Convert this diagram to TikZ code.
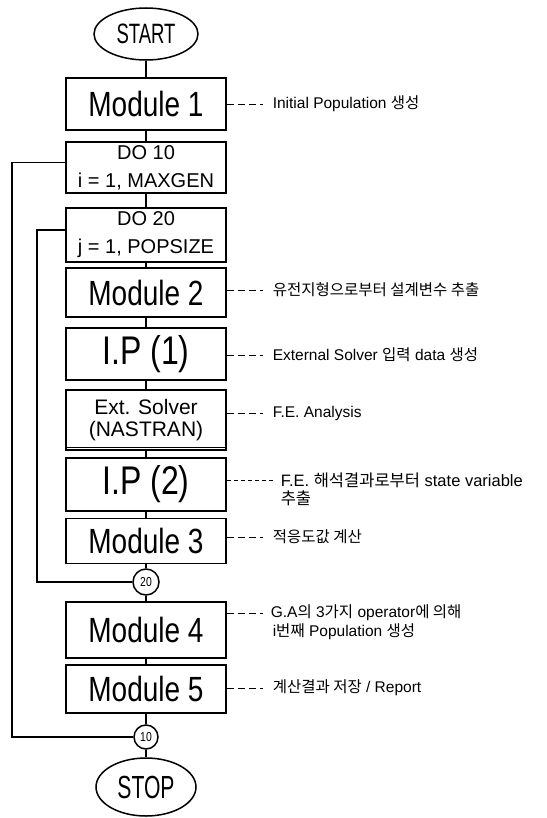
\documentclass[tikz,border=0pt]{standalone}
\usepackage{fontspec}
\usetikzlibrary{shapes.geometric}
\setmainfont{Liberation Sans}
\newfontfamily\bigf[FakeStretch=0.8]{Liberation Sans}
\newfontfamily\termf[FakeStretch=0.66]{Liberation Sans}
\newfontfamily\krf{Noto Sans CJK KR}
\newcommand{\kor}[1]{{\krf #1}}
\begin{document}
\begin{tikzpicture}[x=1bp,y=-1bp,line width=1.6bp,
  box/.style={draw,line width=1.7bp,minimum width=160bp,inner sep=0pt,align=center},
  term/.style={draw,ellipse,line width=1.5bp,inner sep=0pt},
  conn/.style={draw,circle,line width=1.5bp,inner sep=0pt,font=\bigf\fontsize{13bp}{13bp}\selectfont},
  note/.style={anchor=west,inner sep=0pt,align=left,font=\fontsize{15.5bp}{18bp}\selectfont},
  lead/.style={line width=1bp,dash pattern=on 7bp off 4bp},
  leadb/.style={line width=1bp,dash pattern=on 4bp off 3bp},
  modf/.style={font=\bigf\fontsize{35bp}{35bp}\selectfont},
  ipf/.style={font=\bigf\fontsize{40bp}{40bp}\selectfont},
  dof/.style={font=\fontsize{20bp}{28bp}\selectfont}]
\useasboundingbox (0,0) rectangle (547,818);
% main column
\node[term,minimum width=104bp,minimum height=52bp,font=\termf\fontsize{28bp}{28bp}\selectfont] (start) at (146,34) {START};
\node[box,minimum height=52bp,modf] (m1) at (146,104) {Module 1};
\node[box,minimum height=51bp,dof] (do10) at (146,167.5) {DO 10\\i = 1, MAXGEN};
\node[box,minimum height=54bp,dof] (do20) at (146,235) {DO 20\\j = 1, POPSIZE};
\node[box,minimum height=49bp,modf] (m2) at (146,292.5) {Module 2};
\node[box,minimum height=52bp,ipf] (ip1) at (146,354) {I.P (1)};
\node[box,minimum height=60bp,font=\fontsize{21bp}{22bp}\selectfont] (ext) at (146,420) {Ext. Solver\\(NASTRAN)};
\node[box,minimum height=53bp,ipf] (ip2) at (146,484.5) {I.P (2)};
\node[box,minimum height=45bp,modf] (m3) at (146,541) {Module 3};
\node[conn,minimum size=26bp] (c20) at (146,582) {20};
\node[box,minimum height=56bp,modf] (m4) at (146,630) {Module 4};
\node[box,minimum height=48bp,modf] (m5) at (146,689) {Module 5};
\node[conn,minimum size=24bp] (c10) at (146,737) {10};
\node[term,minimum width=100bp,minimum height=58bp,font=\termf\fontsize{32bp}{32bp}\selectfont] (stop) at (146,787) {STOP};
% double bottom edge of the solver box
\draw[line width=0.8bp] ([yshift=3.5bp]ext.south west) -- ([yshift=3.5bp]ext.south east);
% vertical flow
\draw (start) -- (m1);
\draw (m1) -- (do10);
\draw (do10) -- (do20);
\draw (do20) -- (m2);
\draw (m2) -- (ip1);
\draw (ip1) -- (ext);
\draw (ext) -- (ip2);
\draw (ip2) -- (m3);
\draw (m3) -- (c20);
\draw (c20) -- (m4);
\draw (m4) -- (m5);
\draw (m5) -- (c10);
\draw (c10) -- (stop);
% loops
\draw ([yshift=5bp]do10.west) -- ++(-53,0) |- (c10.west);
\draw ([yshift=5bp]do20.west) -- ++(-28,0) |- (c20.west);
% annotations
\node[note] (n1) at (272,104) {Initial Population \kor{생성}};
\node[note] (n2) at (272,290) {\kor{유전지형으로부터 설계변수 추출}};
\node[note] (n3) at (272,355) {External Solver \kor{입력} data \kor{생성}};
\node[note] (n4) at (272,413) {F.E. Analysis};
\node[note,font=\fontsize{16.5bp}{18bp}\selectfont] (n5) at (280,480) {F.E. \kor{해석결과로부터} state variable};
\node[note,font=\fontsize{16.5bp}{18bp}\selectfont] (n5b) at (280,498) {\kor{추출}};
\node[note] (n6) at (272,537) {\kor{적응도값 계산}};
\node[note] (n7) at (270,613) {G.A\kor{의} 3\kor{가지} operator\kor{에 의해}};
\node[note] (n7b) at (272,632) {i\kor{번째} Population \kor{생성}};
\node[note] (n8) at (272,688) {\kor{계산결과 저장} / Report};
\draw[lead] (m1.east |- n1.west) -- ([xshift=-9bp]n1.west);
\draw[lead] (m2.east |- n2.west) -- ([xshift=-9bp]n2.west);
\draw[lead] (ip1.east |- n3.west) -- ([xshift=-9bp]n3.west);
\draw[lead] (ext.east |- n4.west) -- ([xshift=-9bp]n4.west);
\draw[leadb] (ip2.east |- n5.west) -- ([xshift=-6bp]n5.west);
\draw[lead] (m3.east |- n6.west) -- ([xshift=-9bp]n6.west);
\draw[lead] (m4.east |- n7.west) -- ([xshift=-7bp]n7.west);
\draw[lead] (m5.east |- n8.west) -- ([xshift=-9bp]n8.west);
\end{tikzpicture}
\end{document}
